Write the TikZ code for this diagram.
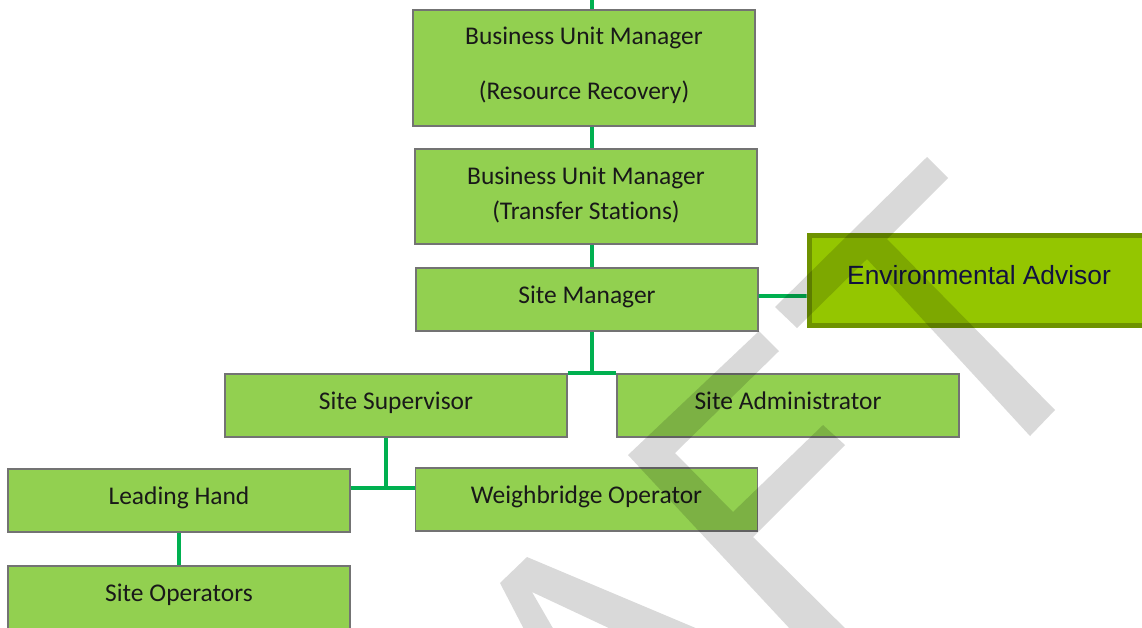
\documentclass[tikz,border=0pt]{standalone}
\usepackage{fontspec}
\setmainfont{Carlito}[Ligatures=NoCommon]
\newfontfamily\advisorfont{Liberation Sans}
\usepackage{tikz}
\usetikzlibrary{positioning}

\definecolor{boxgreen}{HTML}{92D050}
\definecolor{linegreen}{HTML}{00B050}
\definecolor{advgreen}{HTML}{94C600}
\definecolor{advedge}{HTML}{6E9200}
\definecolor{advtext}{HTML}{121240}

\begin{document}
\begin{tikzpicture}[x=0.02cm, y=-0.02cm,
  role/.style={draw=black!55, line width=0.7pt, fill=boxgreen, text=black!90,
    minimum width=6.84cm, minimum height=1.26cm, align=center, inner sep=0pt,
    text height=10pt, text depth=5.2pt,
    font=\fontsize{14.5}{19.8}\selectfont},
  link/.style={linegreen, line width=2.2pt},
  watermark/.style={fill=black, fill opacity=0.15}]
\useasboundingbox (0,0) rectangle (1142,627);

% Management chain
\node[role, minimum height=2.32cm, text height=40pt, text depth=4.7pt] (rr) at (584,68)
  {Business Unit Manager\\[11pt](Resource Recovery)};
\node[role, minimum height=1.9cm, text height=29pt, text depth=2.6pt] (ts) at (586,196.5)
  {Business Unit Manager\\(Transfer Stations)};
\node[role] (sm) at (587,299.5) {Site Manager};

% Advisor box
\node[draw=advedge, line width=2.8pt, fill=advgreen, text=advtext,
  minimum width=6.8cm, minimum height=1.8cm, inner sep=0pt,
  font=\advisorfont\fontsize{15}{18}\selectfont] (ea) at (979,280.5)
  {\raisebox{6pt}{Environmental Advisor}};

% Site staff
\node[role] (ss) at (396,405.5) {Site Supervisor};
\node[role] (sa) at (788,405.5) {Site Administrator};
\node[role] (lh) at (179,500.5) {Leading Hand};
\node[role] (wo) at (586.5,499.5) {Weighbridge Operator};
\node[role] (so) at (179,597.5) {Site Operators};

% Connectors
\coordinate (spine) at (592,0);
\coordinate (ssdrop) at (386,488);
\draw[link] (spine) -- (rr.north -| spine);
\draw[link] (rr.south -| spine) -- (ts.north -| spine);
\draw[link] (ts.south -| spine) -- (sm.north -| spine);
\draw[link] ([yshift=0.07cm]sm.east) -- ([yshift=-0.31cm]ea.west);
\draw[link] (sm.south -| spine) -- (spine |- ss.north);
\draw[link] (ss.north east) -- (sa.north west);
\draw[link] (ss.south -| ssdrop) -- (ssdrop);
\draw[link] (lh.east |- ssdrop) -- (wo.west |- ssdrop);
\draw[link] (lh.south) -- (so.north);

% Watermark letters
\fill[watermark] (927,157) -- (948,178) -- (887,239) -- (1055,410) -- (1030,436)
  -- (867,259) -- (797,328) -- (775,307) -- cycle;
\fill[watermark] (759,331) -- (779,351) -- (675,453) -- (733,512) -- (823,425)
  -- (845,445) -- (753,537) -- (862,645) -- (805,645) -- (628,455) -- cycle;
\fill[watermark] (528,637) -- (500,583) -- (527,557) -- (717,637) -- (628,637)
  -- (532,592) -- (558,637) -- cycle;

\end{tikzpicture}
\end{document}
